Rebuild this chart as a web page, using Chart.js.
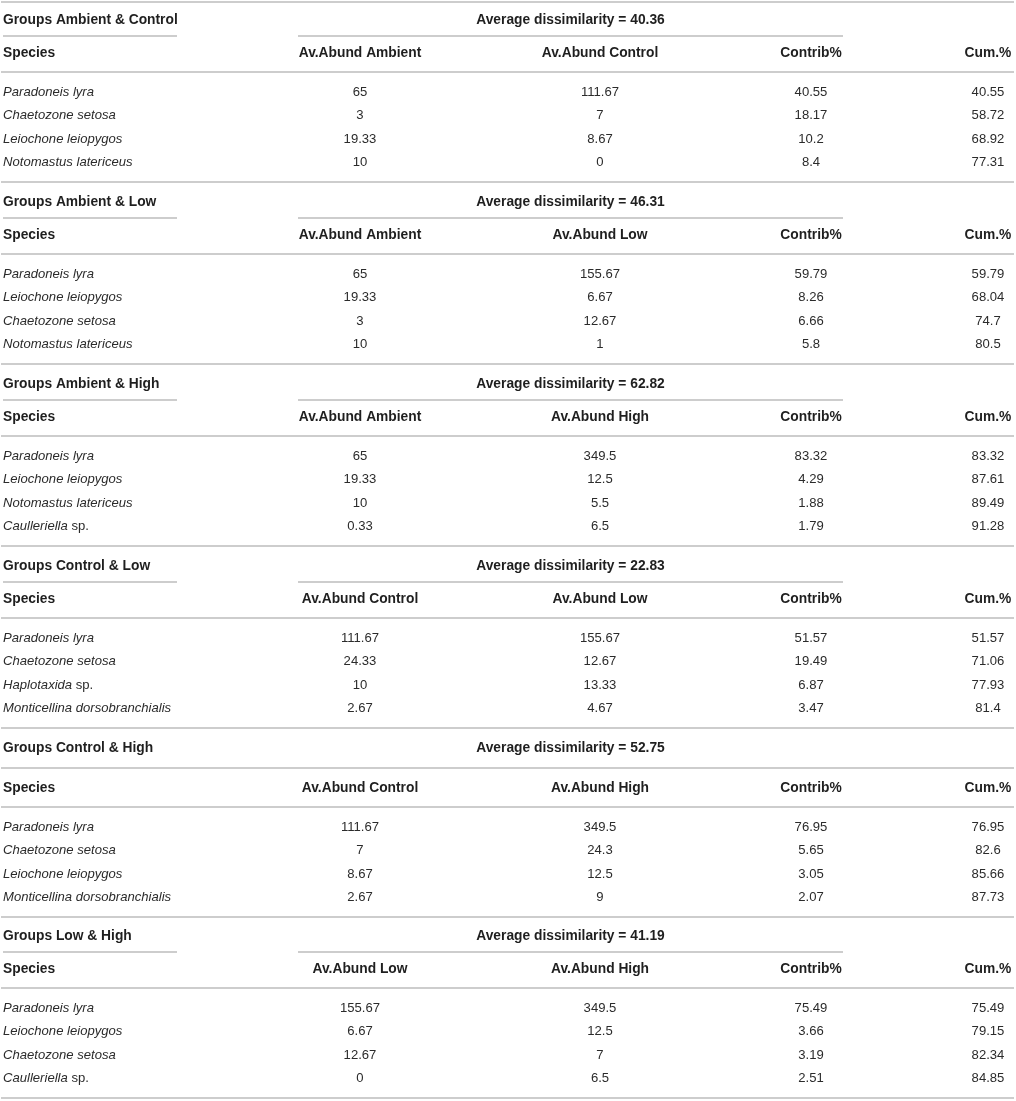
<!DOCTYPE html>
<html>
<head>
<meta charset="utf-8">
<script src="https://cdn.jsdelivr.net/npm/chart.js@4.4.0/dist/chart.umd.min.js"></script>
<style>
  html, body { margin: 0; background: #fff; }
  .table-wrap { position: relative; width: 1016px; height: 1101px; }
</style>
</head>
<body>
<div class="table-wrap"><canvas id="simper"></canvas></div>
<script>
// SIMPER results, one entry per pair of groups
const groupA   = ['Ambient', 'Ambient', 'Ambient', 'Control', 'Control', 'Low'];
const groupB   = ['Control', 'Low', 'High', 'Low', 'High', 'High'];
const avgDissim = [40.36, 46.31, 62.82, 22.83, 52.75, 41.19];

const species = [
  ['Paradoneis lyra', 'Chaetozone setosa', 'Leiochone leiopygos', 'Notomastus latericeus'],
  ['Paradoneis lyra', 'Leiochone leiopygos', 'Chaetozone setosa', 'Notomastus latericeus'],
  ['Paradoneis lyra', 'Leiochone leiopygos', 'Notomastus latericeus', 'Caulleriella sp.'],
  ['Paradoneis lyra', 'Chaetozone setosa', 'Haplotaxida sp.', 'Monticellina dorsobranchialis'],
  ['Paradoneis lyra', 'Chaetozone setosa', 'Leiochone leiopygos', 'Monticellina dorsobranchialis'],
  ['Paradoneis lyra', 'Leiochone leiopygos', 'Chaetozone setosa', 'Caulleriella sp.']
];
const abundA = [
  [65, 3, 19.33, 10],
  [65, 19.33, 3, 10],
  [65, 19.33, 10, 0.33],
  [111.67, 24.33, 10, 2.67],
  [111.67, 7, 8.67, 2.67],
  [155.67, 6.67, 12.67, 0]
];
const abundB = [
  [111.67, 7, 8.67, 0],
  [155.67, 6.67, 12.67, 1],
  [349.5, 12.5, 5.5, 6.5],
  [155.67, 12.67, 13.33, 4.67],
  [349.5, 24.3, 12.5, 9],
  [349.5, 12.5, 7, 6.5]
];
const contrib = [
  [40.55, 18.17, 10.2, 8.4],
  [59.79, 8.26, 6.66, 5.8],
  [83.32, 4.29, 1.88, 1.79],
  [51.57, 19.49, 6.87, 3.47],
  [76.95, 5.65, 3.05, 2.07],
  [75.49, 3.66, 3.19, 2.51]
];
const cumPct = [
  [40.55, 58.72, 68.92, 77.31],
  [59.79, 68.04, 74.7, 80.5],
  [83.32, 87.61, 89.49, 91.28],
  [51.57, 71.06, 77.93, 81.4],
  [76.95, 82.6, 85.66, 87.73],
  [75.49, 79.15, 82.34, 84.85]
];

// layout (in scale units = reference pixels)
const colX = { species: 3, a: 360, b: 600, contrib: 811, cum: 988 };
const blockBottom = [182, 364, 546, 728, 917, 1098];
const rowOffsets = [-89.5, -66.3, -43, -19.7];
const FONT = '"Liberation Sans", Arial, Helvetica, sans-serif';
const BOLD = 'bold 13.8px ' + FONT;
const REG = '13.1px ' + FONT;
const ITAL = 'italic 13.1px ' + FONT;
const RULE = '#bdbdbd';

const tablePlugin = {
  id: 'simperTable',
  afterDraw(chart) {
    const ctx = chart.ctx;
    const sx = v => chart.scales.x.getPixelForValue(v);
    const sy = v => chart.scales.y.getPixelForValue(v);

    const rule = (x0, x1, y) => {
      ctx.beginPath();
      ctx.strokeStyle = RULE;
      ctx.lineWidth = 1.6;
      ctx.moveTo(sx(x0), sy(y));
      ctx.lineTo(sx(x1), sy(y));
      ctx.stroke();
    };
    const text = (s, x, y, font, align, color) => {
      ctx.font = font;
      ctx.fillStyle = color || '#2b2b2b';
      ctx.textAlign = align;
      ctx.textBaseline = 'middle';
      ctx.fillText(s, sx(x), sy(y));
    };

    ctx.save();
    rule(1, 1014, 2);

    blockBottom.forEach((B, i) => {
      const wide = i === 4; // this block has a full-width rule under the group title
      const titleY = wide ? B - 169 : B - 162;
      text('Groups ' + groupA[i] + ' & ' + groupB[i], colX.species, titleY, BOLD, 'left', '#1f1f1f');
      text('Average dissimilarity = ' + avgDissim[i], 570.5, titleY, BOLD, 'center', '#1f1f1f');
      if (wide) {
        rule(1, 1014, B - 149);
      } else {
        rule(3, 177, B - 146);
        rule(298, 843, B - 146);
      }

      const headY = B - 129;
      text('Species', colX.species, headY, BOLD, 'left', '#1f1f1f');
      text('Av.Abund ' + groupA[i], colX.a, headY, BOLD, 'center', '#1f1f1f');
      text('Av.Abund ' + groupB[i], colX.b, headY, BOLD, 'center', '#1f1f1f');
      text('Contrib%', colX.contrib, headY, BOLD, 'center', '#1f1f1f');
      text('Cum.%', colX.cum, headY, BOLD, 'center', '#1f1f1f');
      rule(1, 1014, B - 110);

      species[i].forEach((name, r) => {
        const y = B + rowOffsets[r];
        // genus/species italic, "sp." upright
        const m = name.match(/^(.*?)( sp\.)$/);
        if (m) {
          text(m[1], colX.species, y, ITAL, 'left');
          ctx.font = ITAL;
          const w = ctx.measureText(m[1]).width;
          ctx.font = REG;
          ctx.textAlign = 'left';
          ctx.fillText(m[2], sx(colX.species) + w, sy(y));
        } else {
          text(name, colX.species, y, ITAL, 'left');
        }
        text(String(abundA[i][r]), colX.a, y, REG, 'center');
        text(String(abundB[i][r]), colX.b, y, REG, 'center');
        text(String(contrib[i][r]), colX.contrib, y, REG, 'center');
        text(String(cumPct[i][r]), colX.cum, y, REG, 'center');
      });
      rule(1, 1014, B);
    });
    ctx.restore();
  }
};

new Chart(document.getElementById('simper'), {
  type: 'scatter',
  data: { datasets: [{ data: [], pointRadius: 0 }] },
  options: {
    responsive: true,
    maintainAspectRatio: false,
    animation: false,
    events: [],
    layout: { padding: 0 },
    plugins: { legend: { display: false }, tooltip: { enabled: false } },
    scales: {
      x: { type: 'linear', min: 0, max: 1016, display: false },
      y: { type: 'linear', min: 0, max: 1101, reverse: true, display: false }
    }
  },
  plugins: [tablePlugin]
});
</script>
</body>
</html>
